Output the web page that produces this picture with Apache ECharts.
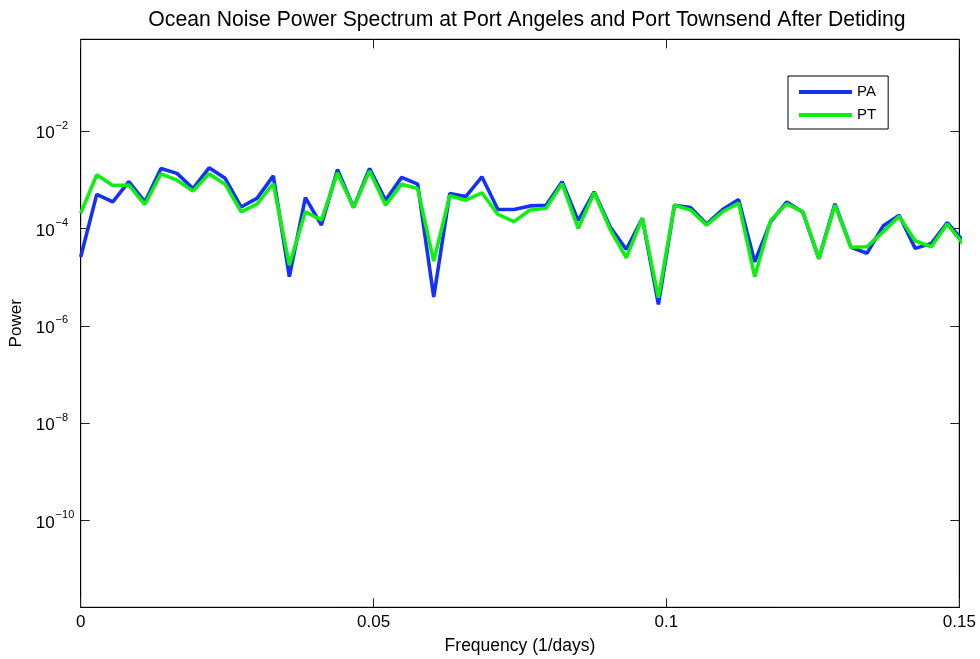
<!DOCTYPE html>
<html>
<head>
<meta charset="utf-8">
<title>Ocean Noise Power Spectrum</title>
<script src="https://cdn.jsdelivr.net/npm/echarts@6/dist/echarts.min.js"></script>
<style>
  html, body { margin: 0; padding: 0; background: #ffffff; }
  #chart { width: 980px; height: 659px; }
</style>
</head>
<body>
<div id="chart"></div>
<script>
// Frequency bins (1/days), one-year record -> spacing of 1/365
const FREQ = [
  0.00000, 0.00274, 0.00548, 0.00822, 0.01096, 0.01370, 0.01644, 0.01918,
  0.02192, 0.02466, 0.02740, 0.03014, 0.03288, 0.03562, 0.03836, 0.04110,
  0.04384, 0.04658, 0.04932, 0.05205, 0.05479, 0.05753, 0.06027, 0.06301,
  0.06575, 0.06849, 0.07123, 0.07397, 0.07671, 0.07945, 0.08219, 0.08493,
  0.08767, 0.09041, 0.09315, 0.09589, 0.09863, 0.10137, 0.10411, 0.10685,
  0.10959, 0.11233, 0.11507, 0.11781, 0.12055, 0.12329, 0.12603, 0.12877,
  0.13151, 0.13425, 0.13699, 0.13973, 0.14247, 0.14521, 0.14795, 0.15068
];

// Power at Port Angeles
const PA = [
  2.6e-5, 5.0e-4, 3.5e-4, 9.1e-4, 3.5e-4, 1.7e-3, 1.35e-3, 6.6e-4,
  1.76e-3, 1.07e-3, 2.75e-4, 4.2e-4, 1.2e-3, 1.02e-5, 4.3e-4, 1.17e-4,
  1.62e-3, 2.7e-4, 1.7e-3, 3.8e-4, 1.12e-3, 8.1e-4, 3.9e-6, 5.2e-4,
  4.5e-4, 1.15e-3, 2.45e-4, 2.45e-4, 2.9e-4, 3.0e-4, 9.1e-4, 1.45e-4,
  5.6e-4, 1.07e-4, 3.7e-5, 1.62e-4, 2.75e-6, 3.0e-4, 2.7e-4, 1.23e-4,
  2.45e-4, 3.9e-4, 2.05e-5, 1.38e-4, 3.5e-4, 2.15e-4, 2.4e-5, 3.2e-4,
  4.1e-5, 3.1e-5, 1.12e-4, 1.86e-4, 3.9e-5, 4.9e-5, 1.32e-4, 5.5e-5
];

// Power at Port Townsend
const PT = [
  2.05e-4, 1.26e-3, 7.6e-4, 7.8e-4, 3.1e-4, 1.32e-3, 9.8e-4, 5.9e-4,
  1.32e-3, 8.1e-4, 2.2e-4, 3.2e-4, 8.3e-4, 1.78e-5, 2.2e-4, 1.48e-4,
  1.38e-3, 2.7e-4, 1.51e-3, 3.0e-4, 8.1e-4, 6.6e-4, 2.14e-5, 4.7e-4,
  3.8e-4, 5.4e-4, 1.95e-4, 1.38e-4, 2.4e-4, 2.6e-4, 8.3e-4, 1.0e-4,
  5.4e-4, 9.5e-5, 2.5e-5, 1.62e-4, 3.8e-6, 3.0e-4, 2.4e-4, 1.17e-4,
  2.2e-4, 3.3e-4, 1.02e-5, 1.48e-4, 3.2e-4, 2.2e-4, 2.4e-5, 3.0e-4,
  4.1e-5, 4.2e-5, 8.5e-5, 1.78e-4, 5.6e-5, 4.2e-5, 1.23e-4, 4.8e-5
];

// Axis ticks: decade exponents on the power axis, frequency ticks below
const Y_TICK_EXPONENTS = [-10, -8, -6, -4, -2];
const Y_RANGE_EXP = [-11.78, -0.116];
const X_RANGE = [0, 0.15];
const X_INTERVAL = 0.05;

const FONT = "'Liberation Sans', Arial, Helvetica, sans-serif";

// The power axis is logarithmic: plot log10(power) on a linear scale
const toLogPairs = (vals) => vals.map((v, i) => [FREQ[i], Math.log10(v)]);

const chart = echarts.init(document.getElementById('chart'), null, { renderer: 'canvas' });

// Decade labels: base "10" left-aligned in a fixed column, exponent raised
const yLabel = {
  customValues: Y_TICK_EXPONENTS,
  margin: 45,
  align: 'left',
  formatter: (v) => '{b|10}{s|' + (v < 0 ? '\u2212' : '') + Math.abs(Math.round(v)) + '}',
  rich: {
    b: { fontSize: 17, fontFamily: FONT, color: '#000', verticalAlign: 'bottom', lineHeight: 22 },
    s: { fontSize: 11, fontFamily: FONT, color: '#000', verticalAlign: 'top', lineHeight: 22, padding: [0, 0, 0, 1] }
  }
};

const tickStyle = { lineStyle: { color: '#222', width: 1 } };

chart.setOption({
  animation: false,
  backgroundColor: '#ffffff',
  textStyle: { fontFamily: FONT },
  title: {
    text: 'Ocean Noise Power Spectrum at Port Angeles and Port Townsend After Detiding',
    left: 522,
    textAlign: 'center',
    top: 5,
    textStyle: { fontFamily: FONT, fontSize: 21.2, fontWeight: 'normal', color: '#000' }
  },
  legend: {
    data: ['PA', 'PT'],
    orient: 'vertical',
    left: 788,
    top: 76,
    icon: 'rect',
    itemWidth: 53,
    itemHeight: 4,
    itemGap: 7,
    padding: [8, 12, 6, 11],
    borderColor: '#000',
    borderWidth: 1,
    backgroundColor: '#fff',
    selectedMode: false,
    textStyle: { fontFamily: FONT, fontSize: 15, color: '#000', lineHeight: 16, padding: [0, 0, 0, 0] }
  },
  grid: {
    left: 80.7,
    right: 20.7,
    top: 39.3,
    bottom: 51.7,
    containLabel: false,
    outerBoundsMode: 'none',
    show: true,
    borderColor: '#000',
    borderWidth: 1,
    backgroundColor: '#fff'
  },
  xAxis: [
    {
      type: 'value',
      min: X_RANGE[0],
      max: X_RANGE[1],
      interval: X_INTERVAL,
      name: 'Frequency (1/days)',
      nameLocation: 'middle',
      nameGap: 30,
      nameTextStyle: { fontFamily: FONT, fontSize: 17.5, color: '#000' },
      axisLine: { show: true, onZero: false, lineStyle: { color: '#000', width: 1 } },
      axisTick: { show: true, inside: true, length: 9, ...tickStyle },
      axisLabel: { fontFamily: FONT, fontSize: 17, color: '#000', margin: 7 },
      splitLine: { show: false }
    },
    {
      type: 'value',
      position: 'top',
      min: X_RANGE[0],
      max: X_RANGE[1],
      interval: X_INTERVAL,
      axisLine: { show: true, onZero: false, lineStyle: { color: '#000', width: 1 } },
      axisTick: { show: true, inside: true, length: 9, ...tickStyle },
      axisLabel: { show: false },
      splitLine: { show: false }
    }
  ],
  yAxis: [
    {
      type: 'value',
      min: Y_RANGE_EXP[0],
      max: Y_RANGE_EXP[1],
      name: 'Power',
      nameLocation: 'middle',
      nameGap: 49,
      nameRotate: 90,
      nameTextStyle: { fontFamily: FONT, fontSize: 17, color: '#000' },
      axisLine: { show: true, onZero: false, lineStyle: { color: '#000', width: 1 } },
      axisTick: { show: true, inside: true, length: 9, customValues: Y_TICK_EXPONENTS, ...tickStyle },
      axisLabel: yLabel,
      splitLine: { show: false }
    },
    {
      type: 'value',
      position: 'right',
      min: Y_RANGE_EXP[0],
      max: Y_RANGE_EXP[1],
      axisLine: { show: true, onZero: false, lineStyle: { color: '#000', width: 1 } },
      axisTick: { show: true, inside: true, length: 9, customValues: Y_TICK_EXPONENTS, ...tickStyle },
      axisLabel: { show: false },
      splitLine: { show: false }
    }
  ],
  series: [
    {
      name: 'PA',
      type: 'line',
      xAxisIndex: 0,
      yAxisIndex: 0,
      data: toLogPairs(PA),
      showSymbol: false,
      clip: true,
      color: '#1432f5',
      lineStyle: { color: '#1432f5', width: 3.6 },
      z: 2
    },
    {
      name: 'PT',
      type: 'line',
      xAxisIndex: 0,
      yAxisIndex: 0,
      data: toLogPairs(PT),
      showSymbol: false,
      clip: true,
      color: '#0ef00e',
      lineStyle: { color: '#0ef00e', width: 3.6 },
      z: 3
    }
  ]
});
</script>
</body>
</html>
